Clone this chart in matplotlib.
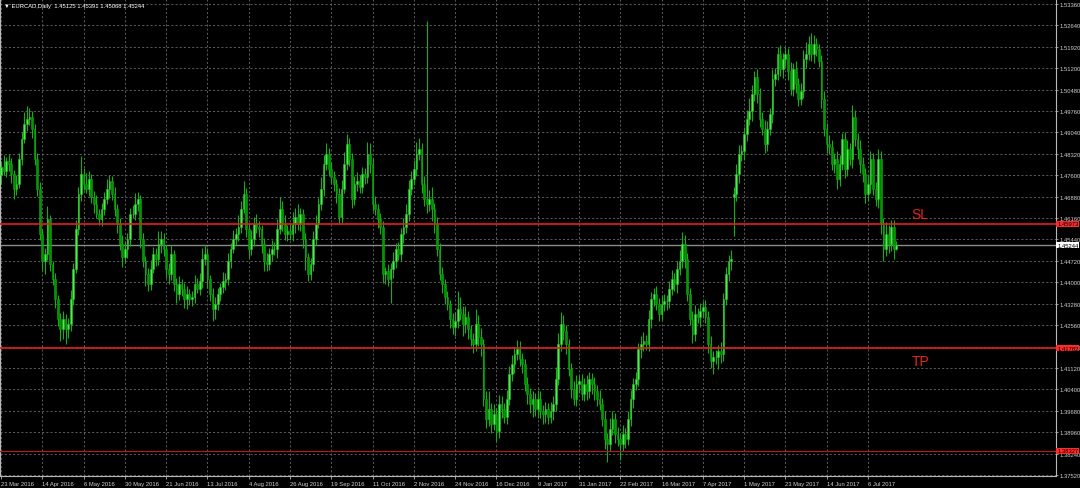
import numpy as np
import matplotlib
matplotlib.use("Agg")
import matplotlib.pyplot as plt
import matplotlib.transforms as mtransforms

# daily closes, EURCAD, in 1e-4 units (23 Mar 2016 .. 21 Jul 2017, one row = 16 bars)
closes = [
    14788, 14775, 14808, 14798, 14764, 14714, 14731, 14815, 14882, 14933, 14949, 14956, 14916, 14815, 14714, 14563,
    14472, 14495, 14613, 14462, 14411, 14344, 14277, 14243, 14277, 14243, 14260, 14344, 14445, 14579, 14697, 14764,
    14731, 14714, 14748, 14687, 14664, 14630, 14613, 14647, 14680, 14714, 14741, 14697, 14647, 14596, 14529, 14485,
    14512, 14546, 14630, 14630, 14664, 14680, 14546, 14472, 14428, 14395, 14445, 14495, 14479, 14529, 14546, 14512,
    14445, 14428, 14495, 14395, 14361, 14395, 14378, 14344, 14361, 14344, 14351, 14395, 14378, 14405, 14479, 14495,
    14411, 14361, 14311, 14327, 14361, 14384, 14405, 14411, 14472, 14512, 14546, 14563, 14586, 14647, 14697, 14579,
    14512, 14546, 14596, 14586, 14579, 14529, 14472, 14462, 14495, 14512, 14512, 14579, 14647, 14596, 14563, 14573,
    14563, 14596, 14620, 14596, 14630, 14546, 14485, 14428, 14462, 14546, 14596, 14664, 14714, 14798, 14832, 14781,
    14754, 14731, 14697, 14620, 14714, 14798, 14865, 14815, 14680, 14731, 14741, 14721, 14764, 14754, 14832, 14798,
    14664, 14647, 14613, 14586, 14428, 14438, 14411, 14445, 14472, 14512, 14495, 14563, 14586, 14630, 14714, 14748,
    14781, 14832, 14849, 14731, 14680, 14664, 14680, 14647, 14596, 14512, 14428, 14395, 14351, 14327, 14277, 14250,
    14270, 14311, 14294, 14260, 14284, 14243, 14210, 14193, 14260, 14216, 14193, 14008, 13941, 13974, 13924, 13957,
    13900, 13991, 13974, 13947, 14008, 14092, 14126, 14159, 14176, 14142, 14126, 14058, 14025, 13991, 14008, 13974,
    14008, 13967, 13957, 13974, 13947, 13967, 13991, 14075, 14193, 14260, 14236, 14193, 14109, 14042, 14008, 14058,
    14068, 14025, 14058, 14035, 14075, 14058, 14035, 14008, 13991, 13941, 13873, 13856, 13907, 13941, 13890, 13873,
    13856, 13890, 13873, 13941, 14008, 14058, 14075, 14176, 14193, 14203, 14193, 14277, 14344, 14361, 14327, 14294,
    14327, 14337, 14337, 14378, 14411, 14395, 14445, 14472, 14529, 14479, 14361, 14277, 14226, 14294, 14284, 14304,
    14317, 14284, 14193, 14136, 14149, 14149, 14169, 14159, 14344, 14428, 14472, 14479, 14697, 14764, 14832, 14842,
    14899, 14949, 14976, 15034, 15091, 15034, 14949, 14916, 14865, 14916, 14966, 15084, 15101, 15168, 15118, 15151,
    15168, 15111, 15050, 15118, 15067, 15017, 15044, 15151, 15168, 15202, 15168, 15202, 15185, 15145, 15017, 14916,
    14865, 14855, 14798, 14815, 14748, 14798, 14882, 14781, 14849, 14815, 14956, 14882, 14849, 14798, 14764, 14697,
    14731, 14815, 14714, 14680, 14815, 14596, 14512, 14563, 14529, 14586, 14512, 14524,
]

# wick length above the body / below the body, 1e-4 units
upper_wicks = [
    20, 40, 15, 25, 20, 15, 30, 20, 25, 40, 45, 30, 20, 15, 20, 25,
    15, 20, 45, 15, 10, 20, 15, 20, 25, 15, 20, 30, 20, 30, 25, 60,
    20, 35, 25, 15, 20, 30, 15, 20, 25, 35, 20, 15, 25, 15, 20, 30,
    25, 20, 20, 30, 35, 25, 15, 20, 15, 20, 30, 25, 20, 45, 25, 20,
    15, 20, 30, 15, 20, 25, 15, 20, 25, 15, 20, 30, 20, 25, 35, 30,
    20, 15, 20, 25, 20, 15, 30, 20, 25, 20, 30, 20, 40, 25, 45, 20,
    20, 30, 25, 35, 20, 15, 20, 25, 20, 30, 25, 35, 40, 25, 30, 20,
    25, 40, 30, 45, 20, 15, 20, 15, 20, 25, 30, 20, 40, 30, 35, 20,
    25, 20, 15, 20, 30, 40, 35, 20, 20, 25, 30, 20, 25, 20, 40, 35,
    20, 25, 15, 20, 20, 15, 25, 20, 30, 20, 25, 20, 30, 35, 30, 25,
    30, 40, 35, 20, 25, 600, 30, 40, 20, 25, 20, 25, 15, 20, 15, 20,
    30, 60, 40, 25, 35, 20, 15, 20, 50, 30, 30, 15, 25, 60, 20, 35,
    20, 30, 25, 20, 30, 25, 30, 20, 30, 25, 20, 15, 25, 20, 25, 20,
    30, 25, 20, 25, 20, 30, 25, 40, 35, 40, 30, 20, 15, 20, 25, 30,
    20, 25, 20, 30, 25, 20, 25, 20, 30, 20, 25, 20, 35, 25, 20, 25,
    20, 30, 20, 25, 30, 20, 25, 20, 25, 30, 20, 30, 25, 20, 25, 20,
    30, 25, 20, 25, 30, 20, 25, 35, 40, 30, 20, 20, 25, 30, 20, 25,
    20, 25, 20, 25, 20, 25, 20, 30, 20, 25, 20, 30, 25, 35, 30, 20,
    25, 30, 45, 30, 20, 25, 20, 25, 30, 25, 20, 35, 20, 25, 30, 20,
    25, 20, 30, 20, 25, 20, 25, 30, 40, 25, 35, 30, 20, 15, 20, 25,
    20, 30, 25, 20, 25, 30, 20, 25, 30, 20, 40, 25, 20, 30, 25, 20,
    30, 25, 20, 25, 35, 25, 20, 40, 30, 25, 25, 15,
]
lower_wicks = [
    30, 15, 20, 25, 30, 35, 20, 15, 20, 15, 25, 20, 30, 20, 25, 20,
    30, 45, 20, 25, 20, 30, 25, 40, 35, 50, 30, 25, 20, 15, 20, 25,
    20, 15, 25, 20, 30, 15, 20, 25, 20, 15, 30, 20, 25, 30, 20, 35,
    20, 30, 25, 15, 20, 25, 30, 20, 40, 25, 20, 15, 25, 20, 30, 25,
    30, 35, 20, 25, 30, 20, 25, 30, 35, 20, 25, 20, 15, 20, 25, 20,
    30, 25, 40, 35, 20, 25, 20, 30, 20, 25, 15, 20, 25, 20, 15, 25,
    30, 20, 25, 20, 25, 30, 35, 25, 20, 25, 20, 30, 15, 25, 20, 25,
    20, 25, 30, 20, 25, 30, 45, 25, 20, 25, 20, 15, 20, 25, 20, 25,
    20, 25, 30, 25, 20, 15, 20, 25, 30, 20, 25, 20, 20, 25, 20, 30,
    25, 20, 30, 25, 30, 35, 25, 80, 30, 25, 20, 25, 30, 20, 25, 20,
    20, 25, 20, 30, 25, 30, 25, 40, 30, 25, 20, 30, 25, 20, 30, 25,
    30, 25, 20, 40, 30, 35, 25, 30, 25, 30, 40, 25, 30, 25, 30, 20,
    35, 25, 30, 20, 25, 20, 25, 30, 20, 25, 30, 25, 35, 30, 45, 25,
    30, 25, 35, 30, 25, 20, 30, 25, 20, 25, 30, 35, 25, 30, 20, 25,
    30, 20, 25, 30, 25, 35, 30, 25, 20, 25, 35, 60, 25, 20, 30, 25,
    55, 25, 30, 20, 25, 30, 20, 25, 30, 25, 20, 25, 30, 25, 20, 25,
    20, 25, 30, 25, 20, 25, 30, 20, 25, 30, 25, 20, 30, 25, 20, 35,
    25, 20, 30, 25, 45, 25, 40, 30, 25, 20, 25, 30, 130, 25, 30, 25,
    30, 25, 20, 35, 25, 30, 25, 20, 30, 25, 20, 30, 25, 20, 25, 30,
    25, 30, 20, 25, 30, 25, 20, 25, 30, 20, 25, 30, 25, 20, 30, 25,
    30, 25, 20, 30, 35, 25, 20, 30, 25, 20, 30, 25, 35, 30, 25, 30,
    25, 30, 20, 25, 30, 35, 40, 25, 30, 25, 35, 5,
]
first_open = 14760
gap_opens = {284: 14687}  # weekend gap (bar index -> open)

date_labels = ["23 Mar 2016", "14 Apr 2016", "6 May 2016", "30 May 2016", "21 Jun 2016",
               "13 Jul 2016", "4 Aug 2016", "26 Aug 2016", "19 Sep 2016", "11 Oct 2016",
               "2 Nov 2016", "24 Nov 2016", "16 Dec 2016", "9 Jan 2017", "31 Jan 2017",
               "22 Feb 2017", "16 Mar 2017", "7 Apr 2017", "1 May 2017", "23 May 2017",
               "14 Jun 2017", "6 Jul 2017"]
bars_per_label = 16
price_ticks = [1.37520, 1.38240, 1.38960, 1.39680, 1.40400, 1.41120, 1.41840, 1.42560,
               1.43280, 1.44000, 1.44720, 1.45440, 1.46160, 1.46880, 1.47600, 1.48320,
               1.49040, 1.49760, 1.50480, 1.51200, 1.51920, 1.52640, 1.53360]

sl_price = 1.45973
tp_price = 1.41782
low_level = 1.38327
bid_price = 1.45244
title = "\u25bc EURCAD,Daily  1.45125 1.45391 1.45068 1.45244"

# ---- build OHLC
c = np.array(closes) / 1e4
o = np.concatenate([[first_open], closes[:-1]]).astype(float)
for k, v in gap_opens.items():
    o[k] = v
o = o / 1e4
top = np.maximum(o, c)
bot = np.minimum(o, c)
h = top + np.array(upper_wicks) / 1e4
l = bot - np.array(lower_wicks) / 1e4
x = np.arange(len(c))
up = c >= o

fig = plt.figure(figsize=(10.8, 4.89), dpi=100, facecolor="black")
ax = fig.add_axes([0, 12 / 489, 1056 / 1080, 477 / 489], facecolor="black")

grid_c = "#6a6a6a"
for k in range(len(date_labels)):
    ax.axvline(k * bars_per_label, color=grid_c, lw=0.6, ls=(0, (2.5, 2.5)), zorder=0)
for p in price_ticks:
    ax.axhline(p, color=grid_c, lw=0.6, ls=(0, (2.5, 2.5)), zorder=0)

ax.vlines(x, l, h, color="#12b012", lw=0.8, zorder=2)
body_h = np.maximum(top - bot, 0.00004)
ax.bar(x[up], body_h[up], bottom=bot[up], width=0.66, color="#52ea52",
       edgecolor="#22c022", linewidth=0.4, zorder=3)
ax.bar(x[~up], body_h[~up], bottom=bot[~up], width=0.66, color="#079507",
       edgecolor="#0aa80a", linewidth=0.4, zorder=3)

ax.axhline(sl_price, color="#e4201c", lw=1.2, zorder=4)
ax.axhline(tp_price, color="#e4201c", lw=1.2, zorder=4)
ax.axhline(low_level, color="#b01c1c", lw=0.9, zorder=4)
ax.axhline(bid_price, color="#8a8a8a", lw=1.0, zorder=1)

ax.text(353, sl_price + 0.0033, "SL", color="#e8231e", fontsize=10,
        family=["Liberation Sans", "DejaVu Sans"], va="center", ha="left")
ax.text(353, tp_price - 0.0043, "TP", color="#e8231e", fontsize=10,
        family=["Liberation Sans", "DejaVu Sans"], va="center", ha="left")

ax.set_xlim(-0.39, 408.9)
ax.set_ylim(1.37486, 1.53528)

small = dict(family=["Liberation Sans", "DejaVu Sans"], size=4.2)
ax.yaxis.tick_right()
ax.set_yticks(price_ticks)
ax.set_yticklabels(["%.5f" % p for p in price_ticks], color="#d0d0d0", **small)
ax.set_xticks(np.arange(len(date_labels)) * bars_per_label)
ax.set_xticklabels(date_labels, color="#d0d0d0", ha="left", **small)
ax.tick_params(axis="y", direction="out", length=1.5, width=0.6, color="#b0b0b0", pad=1.0)
ax.tick_params(axis="x", direction="out", length=2.0, width=0.6, color="#b0b0b0", pad=1.5)
for s in ["left", "right", "bottom"]:
    ax.spines[s].set_color("#b8b8b8")
    ax.spines[s].set_linewidth(0.8)
ax.spines["top"].set_visible(False)

trans = mtransforms.blended_transform_factory(ax.transAxes, ax.transData)
for p, fc in [(sl_price, "#ff2b2b"), (tp_price, "#ff2b2b"), (low_level, "#ff2b2b"), (bid_price, "white")]:
    ax.text(1.001, p, "%.5f" % p, transform=trans, ha="left", va="center", color="black",
            bbox=dict(boxstyle="square,pad=0.1", fc=fc, ec="none"), zorder=10, clip_on=False, **small)

fig.text(0.004, 0.992, title, color="white", va="top", ha="left", **small)

fig.savefig("out.png", dpi=100, facecolor="black")
